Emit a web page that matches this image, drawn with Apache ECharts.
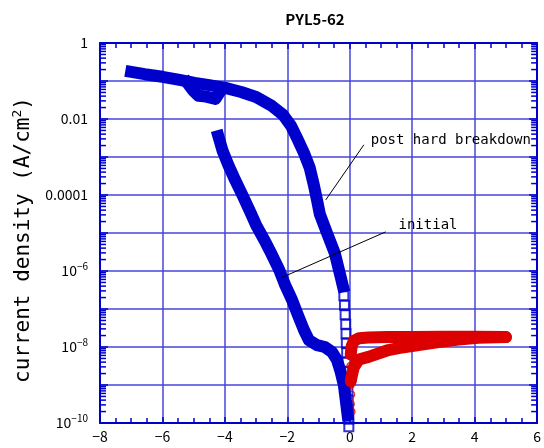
<!DOCTYPE html>
<html>
<head>
<meta charset="utf-8">
<script src="https://cdn.jsdelivr.net/npm/echarts@6/dist/echarts.min.js"></script>
<style>
html, body { margin: 0; padding: 0; background: #fff; }
#chart { width: 544px; height: 448px; }
</style>
</head>
<body>
<div id="chart"></div>
<script>
// [voltage (V), current density (A/cm2)]
var postBand = [
    [-7.0, 0.174], [-6.57, 0.151], [-6.0, 0.129], [-5.45, 0.107], [-4.97, 0.0891],
    [-4.5, 0.0776], [-3.99, 0.0661], [-3.48, 0.0513], [-3.0, 0.038], [-2.49, 0.0219],
    [-2.14, 0.0129], [-1.88, 6.61e-3], [-1.66, 2.82e-3], [-1.47, 1.29e-3], [-1.28, 5.13e-4],
    [-1.15, 1.82e-4], [-1.05, 7.41e-5], [-0.96, 3.16e-5], [-0.73, 1.0e-5], [-0.48, 2.95e-6],
    [-0.29, 6.92e-7], [-0.22, 3.98e-7]
];
var postBlob = [
    [-5.2, 0.0891], [-5.02, 0.0562], [-4.85, 0.0407], [-4.6, 0.0389], [-4.3, 0.0339], [-4.2, 0.0457]
];
var postTail = [
    [-0.19, 2.24e-7], [-0.17, 1.26e-7], [-0.15, 7.08e-8], [-0.13, 3.98e-8], [-0.12, 2.24e-8],
    [-0.11, 1.26e-8], [-0.1, 7.08e-9], [-0.09, 3.98e-9], [-0.08, 2.24e-9], [-0.07, 1.26e-9],
    [-0.06, 7.08e-10], [-0.05, 3.98e-10], [-0.04, 2.24e-10], [-0.03, 1.26e-10], [-0.03, 7.94e-11]
];
var initialBand = [
    [-4.21, 3.55e-3], [-4.08, 1.51e-3], [-3.89, 6.17e-4], [-3.67, 2.45e-4], [-3.44, 1.0e-4],
    [-3.22, 4.07e-5], [-3.0, 1.62e-5], [-2.74, 6.61e-6], [-2.49, 2.63e-6], [-2.26, 1.07e-6],
    [-2.07, 4.27e-7], [-1.85, 1.74e-7], [-1.66, 6.92e-8], [-1.47, 2.82e-8], [-1.31, 1.51e-8],
    [-1.05, 1.12e-8], [-0.8, 1.0e-8], [-0.57, 7.41e-9], [-0.41, 4.57e-9], [-0.29, 2.19e-9],
    [-0.19, 1.0e-9], [-0.13, 4.07e-10], [-0.07, 1.62e-10]
];
var posUpper = [
    [0.03, 6.31e-9], [0.06, 1.05e-8], [0.13, 1.45e-8], [0.3, 1.7e-8], [0.6, 1.78e-8],
    [1.2, 1.82e-8], [2.0, 1.82e-8], [3.0, 1.85e-8], [4.0, 1.85e-8], [5.0, 1.82e-8]
];
var posLower = [
    [0.03, 1.26e-9], [0.08, 2.0e-9], [0.13, 2.95e-9], [0.29, 4.68e-9], [0.6, 5.5e-9],
    [1.24, 8.32e-9], [1.56, 9.33e-9], [2.2, 1.12e-8], [2.84, 1.35e-8], [3.48, 1.58e-8],
    [4.11, 1.74e-8], [5.0, 1.82e-8]
];
var posTail = [
    [0.02, 3.16e-9], [0.03, 1.78e-9], [0.02, 1.0e-9], [0.04, 5.62e-10], [0.03, 3.16e-10], [0.05, 2.0e-10]
];

// annotation leader lines and label anchors
var postLine = [[0.45, 2.09e-3], [-0.77, 7.41e-5]];
var initialLine = [[1.15, 1.07e-5], [-2.2, 6.61e-7]];
var postLabelAt = [0.51, 2.82e-3];
var initialLabelAt = [1.40, 1.62e-5];

var blue = '#0000cc';
var red = '#dd0000';
var gridBlue = '#4646da';
var tickFont = 'Noto Sans CJK JP';
var monoFont = 'DejaVu Sans Mono';

// log minor tick positions (2..9 in each decade)
var minorTickValues = [];
for (var e = -10; e < 0; e++) {
    for (var k = 2; k <= 9; k++) {
        minorTickValues.push([-8, k * Math.pow(10, e)]);
    }
}

var chart = echarts.init(document.getElementById('chart'));

function yLabel(v) {
    var p = Math.round(Math.log10(v));
    if (p % 2 !== 0) return '';
    if (p === 0) return '1';
    if (p === -2) return '0.01';
    if (p === -4) return '0.0001';
    return '{b|10}{s|\u2212' + (-p) + '}';
}

var axisLineStyle = { onZero: false, lineStyle: { color: blue, width: 2 } };
var bandWidth = 12;

var option = {
    animation: false,
    title: {
        text: 'PYL5-62',
        left: 310,
        textAlign: 'center',
        top: 7,
        textStyle: { fontFamily: tickFont, fontWeight: 'bold', fontSize: 15, color: '#000' }
    },
    grid: { left: 100, right: 5, top: 43, bottom: 25 },
    xAxis: [
        {
            type: 'value', min: -8, max: 6, interval: 2, position: 'bottom',
            axisLine: axisLineStyle,
            axisTick: { inside: true, length: 6, lineStyle: { color: blue, width: 1.5 } },
            minorTick: { show: true, splitNumber: 4, length: 5, lineStyle: { color: blue, width: 1.5 } },
            splitLine: { show: true, lineStyle: { color: gridBlue, width: 1.5 } },
            axisLabel: {
                color: '#000', fontSize: 14, fontFamily: tickFont, margin: 7,
                formatter: function (v) { return String(v).replace('-', '\u2212'); }
            }
        },
        {
            type: 'value', min: -8, max: 6, interval: 2, position: 'top',
            axisLine: axisLineStyle,
            axisTick: { inside: true, length: 6, lineStyle: { color: blue, width: 1.5 } },
            minorTick: { show: true, splitNumber: 4, length: 5, lineStyle: { color: blue, width: 1.5 } },
            splitLine: { show: false },
            axisLabel: { show: false }
        }
    ],
    yAxis: [
        {
            type: 'log', logBase: 10, min: 1e-10, max: 1, interval: 1, position: 'left',
            axisLine: axisLineStyle,
            axisTick: { inside: true, length: 8, lineStyle: { color: blue, width: 1.5 } },
            splitLine: { show: true, lineStyle: { color: gridBlue, width: 1.5 } },
            axisLabel: {
                color: '#000', fontSize: 14, fontFamily: tickFont, margin: 12,
                formatter: yLabel,
                rich: {
                    b: { fontSize: 14, fontFamily: tickFont, color: '#000' },
                    s: { fontSize: 10, fontFamily: tickFont, color: '#000', padding: [0, 0, 9, 0] }
                }
            },
            name: 'current density (A/cm{sup|2})',
            nameLocation: 'middle',
            nameGap: 47,
            nameTextStyle: {
                fontSize: 21, fontFamily: monoFont, color: '#000', padding: [0, 14, 0, 0],
                rich: { sup: { fontSize: 13, fontFamily: monoFont, color: '#000', padding: [0, 0, 12, 0] } }
            }
        },
        {
            type: 'log', logBase: 10, min: 1e-10, max: 1, interval: 1, position: 'right',
            axisLine: axisLineStyle,
            axisTick: { inside: true, length: 8, lineStyle: { color: blue, width: 1.5 } },
            splitLine: { show: false },
            axisLabel: { show: false }
        }
    ],
    series: [
        {
            type: 'line', data: postBand, showSymbol: false, silent: true,
            lineStyle: { color: blue, width: bandWidth, cap: 'square', join: 'round' }
        },
        {
            type: 'line', data: postBlob, showSymbol: false, silent: true,
            lineStyle: { color: blue, width: bandWidth, cap: 'square', join: 'round' }
        },
        {
            type: 'scatter', data: postTail, symbol: 'rect', symbolSize: 9, clip: false, silent: true,
            itemStyle: { color: 'rgba(255,255,255,0)', borderColor: blue, borderWidth: 2 }
        },
        {
            type: 'line', data: initialBand, showSymbol: false, silent: true,
            lineStyle: { color: blue, width: bandWidth, cap: 'square', join: 'round' },
            markLine: {
                silent: true, symbol: ['none', 'none'], label: { show: false },
                lineStyle: { color: '#000', width: 1, type: 'solid' },
                data: [
                    [{ coord: postLine[0] }, { coord: postLine[1] }],
                    [{ coord: initialLine[0] }, { coord: initialLine[1] }]
                ]
            },
            markPoint: {
                silent: true, symbol: 'circle', symbolSize: 0,
                label: { show: true, position: 'right', distance: 5, color: '#000', fontSize: 14, fontFamily: monoFont },
                data: [
                    { coord: postLabelAt, label: { formatter: 'post hard breakdown' } },
                    { coord: initialLabelAt, label: { formatter: 'initial' } }
                ]
            }
        },
        {
            type: 'scatter', data: posTail, symbol: 'circle', symbolSize: 7, silent: true,
            itemStyle: { color: 'rgba(255,255,255,0)', borderColor: red, borderWidth: 1.5 }
        },
        {
            type: 'line', data: posLower, showSymbol: false, silent: true,
            lineStyle: { color: red, width: bandWidth, cap: 'round', join: 'round' }
        },
        {
            type: 'line', data: posUpper, showSymbol: false, silent: true,
            lineStyle: { color: red, width: bandWidth, cap: 'round', join: 'round' }
        },
        {
            type: 'custom', data: minorTickValues, silent: true, z: 5,
            renderItem: function (params, api) {
                var cs = params.coordSys;
                var y = api.coord([api.value(0), api.value(1)])[1];
                var st = { stroke: blue, lineWidth: 1.5 };
                return {
                    type: 'group',
                    children: [
                        { type: 'line', shape: { x1: cs.x, y1: y, x2: cs.x + 6, y2: y }, style: st },
                        { type: 'line', shape: { x1: cs.x + cs.width - 6, y1: y, x2: cs.x + cs.width, y2: y }, style: st }
                    ]
                };
            }
        }
    ]
};

chart.setOption(option);
</script>
</body>
</html>
